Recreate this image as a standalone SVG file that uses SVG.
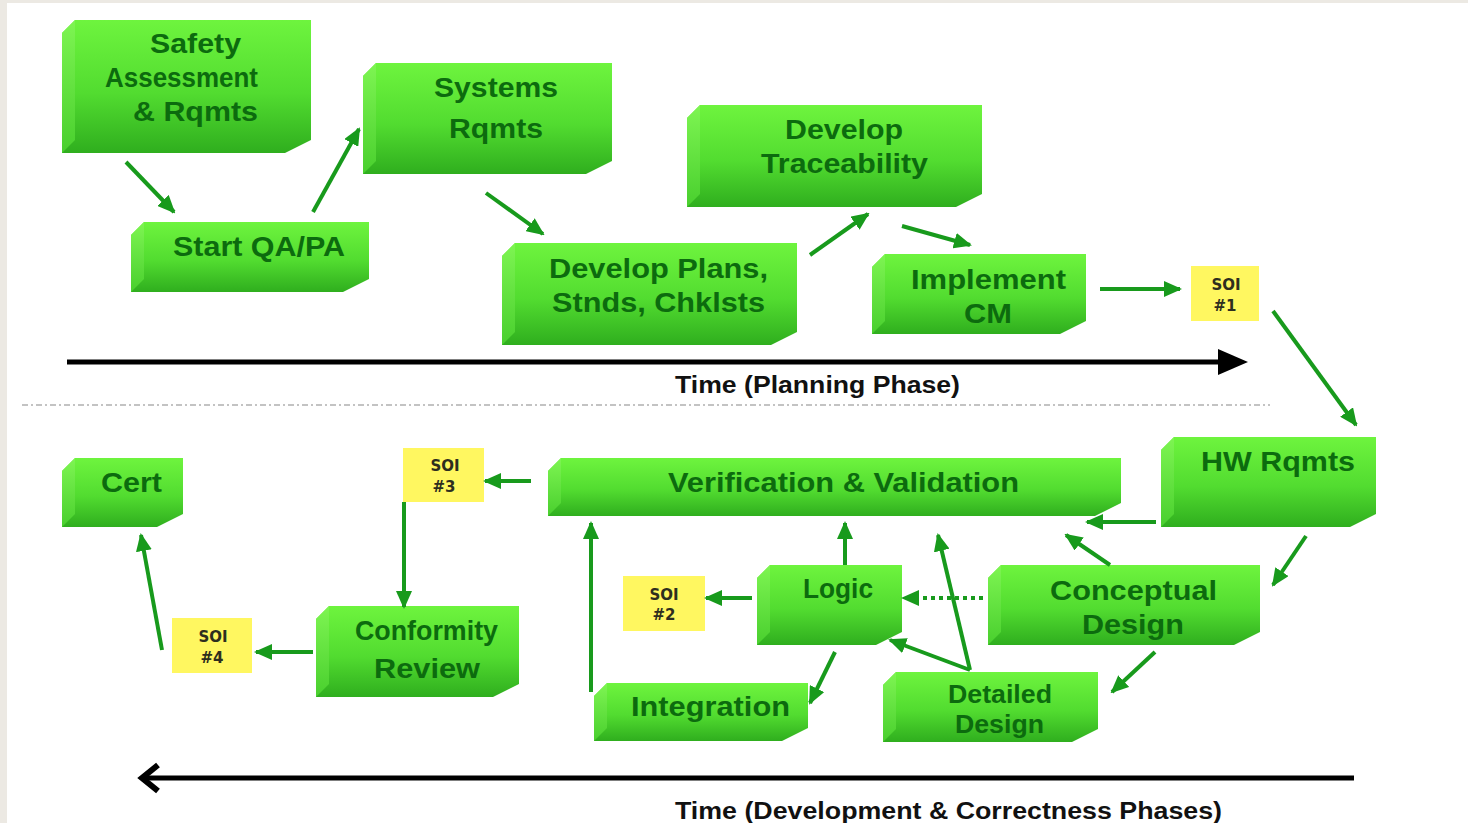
<svg xmlns="http://www.w3.org/2000/svg" width="1468" height="823" viewBox="0 0 1468 823">
<style>
.front{fill:url(#gFront);}
.side{fill:url(#gSide);}
.lbl{font-family:"Liberation Sans",Arial,sans-serif;font-weight:bold;fill:#0c6b0e;font-size:27px;}
.soi rect{fill:#fff760;}
.soi text{font-family:"DejaVu Sans","Liberation Sans",sans-serif;font-weight:bold;fill:#2e2e1e;font-size:15px;text-anchor:middle;}
.ga{stroke:#189a1c;stroke-width:4;fill:none;marker-end:url(#gHead);}
.time{font-family:"Liberation Sans",Arial,sans-serif;font-weight:bold;fill:#111;font-size:23px;}
</style>
<defs>
<linearGradient id="gFront" x1="0" y1="0" x2="0" y2="1">
<stop offset="0" stop-color="#6ef43e"/>
<stop offset="0.55" stop-color="#52dc30"/>
<stop offset="1" stop-color="#2fae1e"/>
</linearGradient>
<linearGradient id="gSide" x1="0" y1="0" x2="0" y2="1">
<stop offset="0" stop-color="#7ef552"/>
<stop offset="1" stop-color="#49cf2e"/>
</linearGradient>
<marker id="gHead" markerUnits="userSpaceOnUse" viewBox="0 0 18 16" refX="16" refY="8" markerWidth="18" markerHeight="16" orient="auto">
<path d="M0,0 L18,8 L0,16 z" fill="#189a1c"/>
</marker>
</defs>
<rect x="0" y="0" width="1468" height="823" fill="#ffffff"/>
<rect x="0" y="0" width="1468" height="3" fill="#ece9e3"/>
<rect x="0" y="0" width="7" height="823" fill="#ece9e3"/>

<g id="timeline-planning">
<line x1="67" y1="362" x2="1222" y2="362" stroke="#000" stroke-width="5"/>
<polygon points="1218,349 1248,362 1218,375" fill="#000"/>
<text class="time" x="675" y="393" textLength="285" lengthAdjust="spacingAndGlyphs">Time (Planning Phase)</text>
</g>
<line id="separator" x1="22" y1="405" x2="1270" y2="405" stroke="#b0b0b0" stroke-width="1.5" stroke-dasharray="6 3 2 3"/>
<g id="timeline-development">
<line x1="1354" y1="778" x2="146" y2="778" stroke="#000" stroke-width="5"/>
<polyline points="158,765 142,778 158,791" fill="none" stroke="#000" stroke-width="6" stroke-linejoin="miter"/>
<text class="time" x="675" y="819" textLength="547" lengthAdjust="spacingAndGlyphs">Time (Development &amp; Correctness Phases)</text>
</g>

<g id="n-safety">
<polygon class="front" points="62,33 75,20 311,20 311,140 285,153 62,153"/>
<polygon class="side" points="62,33 75,20 75,140 62,153"/>
<text class="lbl" x="150" y="53" textLength="91" lengthAdjust="spacingAndGlyphs">Safety</text>
<text class="lbl" x="105" y="87" textLength="153" lengthAdjust="spacingAndGlyphs">Assessment</text>
<text class="lbl" x="133" y="121" textLength="125" lengthAdjust="spacingAndGlyphs">&amp; Rqmts</text>
</g>
<g id="n-systems">
<polygon class="front" points="363,76 376,63 612,63 612,161 586,174 363,174"/>
<polygon class="side" points="363,76 376,63 376,161 363,174"/>
<text class="lbl" x="434" y="97" textLength="124" lengthAdjust="spacingAndGlyphs">Systems</text>
<text class="lbl" x="449" y="138" textLength="94" lengthAdjust="spacingAndGlyphs">Rqmts</text>
</g>
<g id="n-startqa">
<polygon class="front" points="131,235 144,222 369,222 369,279 343,292 131,292"/>
<polygon class="side" points="131,235 144,222 144,279 131,292"/>
<text class="lbl" x="173" y="256" textLength="172" lengthAdjust="spacingAndGlyphs">Start QA/PA</text>
</g>
<g id="n-trace">
<polygon class="front" points="687,118 700,105 982,105 982,194 956,207 687,207"/>
<polygon class="side" points="687,118 700,105 700,194 687,207"/>
<text class="lbl" x="785" y="139" textLength="118" lengthAdjust="spacingAndGlyphs">Develop</text>
<text class="lbl" x="761" y="173" textLength="167" lengthAdjust="spacingAndGlyphs">Traceability</text>
</g>
<g id="n-plans">
<polygon class="front" points="502,256 515,243 797,243 797,332 771,345 502,345"/>
<polygon class="side" points="502,256 515,243 515,332 502,345"/>
<text class="lbl" x="549" y="278" textLength="219" lengthAdjust="spacingAndGlyphs">Develop Plans,</text>
<text class="lbl" x="552" y="312" textLength="213" lengthAdjust="spacingAndGlyphs">Stnds, Chklsts</text>
</g>
<g id="n-cm">
<polygon class="front" points="872,267 885,254 1086,254 1086,321 1060,334 872,334"/>
<polygon class="side" points="872,267 885,254 885,321 872,334"/>
<text class="lbl" x="911" y="289" textLength="155" lengthAdjust="spacingAndGlyphs">Implement</text>
<text class="lbl" x="964" y="323" textLength="48" lengthAdjust="spacingAndGlyphs">CM</text>
</g>
<g id="n-soi1" class="soi">
<rect x="1191" y="266" width="68" height="55"/>
<text x="1226" y="290">SOI</text>
<text x="1225" y="311">#1</text>
</g>
<g id="n-hw">
<polygon class="front" points="1161,450 1174,437 1376,437 1376,514 1350,527 1161,527"/>
<polygon class="side" points="1161,450 1174,437 1174,514 1161,527"/>
<text class="lbl" x="1201" y="471" textLength="154" lengthAdjust="spacingAndGlyphs">HW Rqmts</text>
</g>
<g id="n-vv">
<polygon class="front" points="548,471 561,458 1121,458 1121,503 1095,516 548,516"/>
<polygon class="side" points="548,471 561,458 561,503 548,516"/>
<text class="lbl" x="668" y="492" textLength="351" lengthAdjust="spacingAndGlyphs">Verification &amp; Validation</text>
</g>
<g id="n-soi3" class="soi">
<rect x="403" y="448" width="81" height="54"/>
<text x="445" y="471">SOI</text>
<text x="444" y="492">#3</text>
</g>
<g id="n-cert">
<polygon class="front" points="62,471 75,458 183,458 183,514 157,527 62,527"/>
<polygon class="side" points="62,471 75,458 75,514 62,527"/>
<text class="lbl" x="101" y="492" textLength="61" lengthAdjust="spacingAndGlyphs">Cert</text>
</g>
<g id="n-conformity">
<polygon class="front" points="316,619 329,606 519,606 519,684 493,697 316,697"/>
<polygon class="side" points="316,619 329,606 329,684 316,697"/>
<text class="lbl" x="355" y="640" textLength="143" lengthAdjust="spacingAndGlyphs">Conformity</text>
<text class="lbl" x="374" y="678" textLength="106" lengthAdjust="spacingAndGlyphs">Review</text>
</g>
<g id="n-soi4" class="soi">
<rect x="172" y="618" width="80" height="55"/>
<text x="213" y="642">SOI</text>
<text x="212" y="663">#4</text>
</g>
<g id="n-logic">
<polygon class="front" points="757,578 770,565 902,565 902,632 876,645 757,645"/>
<polygon class="side" points="757,578 770,565 770,632 757,645"/>
<text class="lbl" x="803" y="598" textLength="70" lengthAdjust="spacingAndGlyphs">Logic</text>
</g>
<g id="n-soi2" class="soi">
<rect x="623" y="576" width="82" height="55"/>
<text x="664" y="600">SOI</text>
<text x="664" y="620">#2</text>
</g>
<g id="n-conceptual">
<polygon class="front" points="988,578 1001,565 1260,565 1260,632 1234,645 988,645"/>
<polygon class="side" points="988,578 1001,565 1001,632 988,645"/>
<text class="lbl" x="1050" y="600" textLength="167" lengthAdjust="spacingAndGlyphs">Conceptual</text>
<text class="lbl" x="1082" y="634" textLength="102" lengthAdjust="spacingAndGlyphs">Design</text>
</g>
<g id="n-integration">
<polygon class="front" points="594,696 607,683 808,683 808,728 782,741 594,741"/>
<polygon class="side" points="594,696 607,683 607,728 594,741"/>
<text class="lbl" x="631" y="716" textLength="159" lengthAdjust="spacingAndGlyphs">Integration</text>
</g>
<g id="n-detailed">
<polygon class="front" points="883,685 896,672 1098,672 1098,729 1072,742 883,742"/>
<polygon class="side" points="883,685 896,672 896,729 883,742"/>
<text class="lbl" x="948" y="703" textLength="104" lengthAdjust="spacingAndGlyphs" style="font-size:25px">Detailed</text>
<text class="lbl" x="955" y="733" textLength="89" lengthAdjust="spacingAndGlyphs" style="font-size:25px">Design</text>
</g>

<g id="connectors">
<line class="ga" x1="126" y1="162" x2="174" y2="212"/>
<line class="ga" x1="313" y1="212" x2="359" y2="129"/>
<line class="ga" x1="486" y1="193" x2="543" y2="234"/>
<line class="ga" x1="810" y1="255" x2="868" y2="214"/>
<line class="ga" x1="902" y1="226" x2="970" y2="245"/>
<line class="ga" x1="1100" y1="289" x2="1180" y2="289"/>
<line class="ga" x1="1273" y1="311" x2="1356" y2="425"/>
<line class="ga" x1="1306" y1="536" x2="1273" y2="585"/>
<line class="ga" x1="1156" y1="522" x2="1087" y2="522"/>
<line class="ga" x1="1110" y1="565" x2="1066" y2="535"/>
<line class="ga" x1="983" y1="598" x2="903" y2="598" stroke-dasharray="4 4"/>
<line class="ga" x1="1155" y1="652" x2="1112" y2="692"/>
<line class="ga" x1="970" y1="670" x2="938" y2="535"/>
<line class="ga" x1="970" y1="670" x2="890" y2="640"/>
<line class="ga" x1="845" y1="565" x2="845" y2="523"/>
<line class="ga" x1="752" y1="598" x2="706" y2="598"/>
<line class="ga" x1="835" y1="652" x2="810" y2="703"/>
<line class="ga" x1="591" y1="692" x2="591" y2="523"/>
<line class="ga" x1="531" y1="481" x2="485" y2="481"/>
<line class="ga" x1="404" y1="502" x2="404" y2="607"/>
<line class="ga" x1="313" y1="652" x2="256" y2="652"/>
<line class="ga" x1="162" y1="650" x2="141" y2="535"/>
</g>
</svg>
